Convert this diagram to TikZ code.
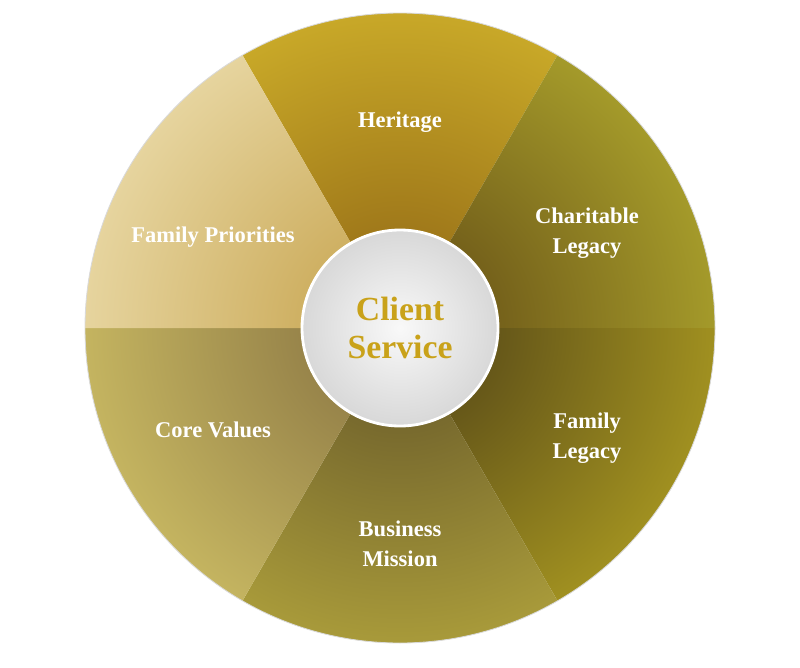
\documentclass[tikz,border=0pt]{standalone}
\usepackage{fontspec}
\setmainfont{Liberation Serif}
\usetikzlibrary{positioning}
\definecolor{clientgold}{HTML}{C9A21A}
\definecolor{hubgray}{HTML}{D8D8D8}

\begin{document}
\begin{tikzpicture}[
  x=0.025cm, y=0.025cm,
  segtext/.style={text=white, font=\fontsize{16}{21}\selectfont\bfseries, align=center},
  hubtext/.style={text=clientgold, font=\fontsize{24}{27}\selectfont\bfseries, align=center},
]
\useasboundingbox (0,0) rectangle (800,667);
\coordinate (c) at (400,339);

% wedges: start angle / end angle / inner colour / outer colour
\foreach \a/\b/\ci/\co in {
  60/120/8E6414/C8A828,
  0/60/604814/A49A2A,
  -60/0/4C3E16/A09020,
  -120/-60/625428/A89A3A,
  180/240/846F40/C4B460,
  120/180/C4A048/E6D49E} {
  \definecolor{wedgein}{HTML}{\ci}
  \definecolor{wedgeout}{HTML}{\co}
  \begin{scope}
    \clip (c) -- ++(\a:315) arc[start angle=\a, end angle=\b, radius=315] -- cycle;
    \shade[inner color=wedgein, outer color=wedgeout] (c) circle[radius=315];
  \end{scope}
}
\draw[white!85!black, line width=0.6pt] (c) circle[radius=315];

% hub
\shade[inner color=white!95!gray, outer color=hubgray] (c) circle[radius=98];
\draw[white, line width=2pt] (c) circle[radius=98];
\node (hub) [hubtext] at (c) {Client\\Service};

% labels
\node (heritage) [segtext] at (400,545) {Heritage};
\node (charitable) [segtext] at (587,434) {Charitable\\Legacy};
\node (famlegacy) [segtext] at (587,229) {Family\\Legacy};
\node (business) [segtext] at (400,123) {Business\\Mission};
\node (values) [segtext] at (213,237) {Core Values};
\node (priorities) [segtext] at (213,430) {Family Priorities};
\end{tikzpicture}
\end{document}
